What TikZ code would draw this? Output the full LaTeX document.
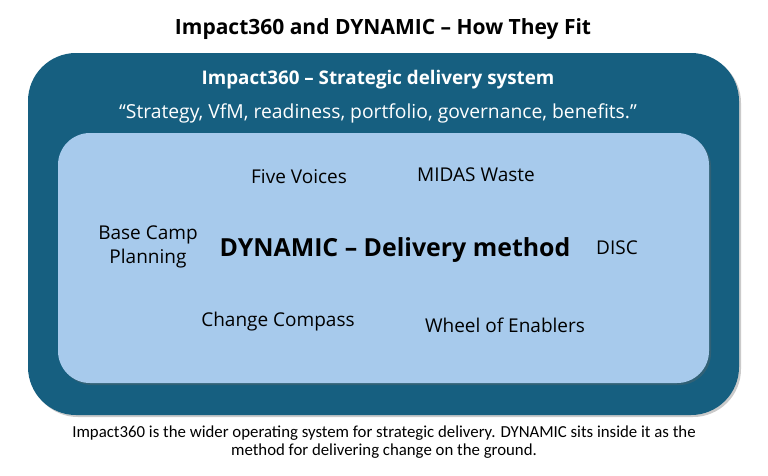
\documentclass[tikz,border=0pt]{standalone}
\usepackage{fontspec}
\setmainfont{Open Sans}
\newfontfamily\capfont{Carlito}
\usetikzlibrary{shadows}
\definecolor{systemblue}{HTML}{165F80}
\definecolor{methodblue}{HTML}{A7CAEC}
\begin{document}
\begin{tikzpicture}[x=1pt,y=-1pt,
    boxshadow/.style={drop shadow={shadow xshift=2pt,shadow yshift=-2pt,opacity=0.35,fill=black!60}},
    tool/.style={font=\fontsize{19}{23}\selectfont,text=black,align=center},
    intro/.style={font=\fontsize{19.3}{23}\selectfont,text=white}]
    \useasboundingbox (0,0) rectangle (768,475);
    \node[font=\fontsize{21}{25}\selectfont\bfseries] (title) at (383,29) {Impact360 and DYNAMIC -- How They Fit};
    % outer system box
    \fill[systemblue,rounded corners=48pt,boxshadow] (28,53) rectangle (739,415);
    \node[intro,font=\fontsize{18.8}{22}\selectfont\bfseries] (sys) at (378,80) {Impact360 -- Strategic delivery system};
    \node[intro] (quote) at (378,113) {``Strategy, VfM, readiness, portfolio, governance, benefits.''};
    % inner method box
    \fill[methodblue,rounded corners=32pt,boxshadow] (58,133) rectangle (709,383);
    \node[font=\fontsize{24.9}{29}\selectfont\bfseries] (method) at (395,250) {DYNAMIC -- Delivery method};
    \node[tool] (voices) at (299,177) {Five Voices};
    \node[tool] (midas) at (476,175) {MIDAS Waste};
    \node[tool,font=\fontsize{19}{24}\selectfont] (basecamp) at (148,247) {Base Camp\\Planning};
    \node[tool] (disc) at (617,248) {DISC};
    \node[tool] (compass) at (278,322) {Change Compass};
    \node[tool] (wheel) at (505,325) {Wheel of Enablers};
    % caption
    \node[font=\capfont\fontsize{16.8}{18}\selectfont,align=center] (caption) at (384,442)
        {Impact360 is the wider operating system for strategic delivery. DYNAMIC sits inside it as the\\method for delivering change on the ground.};
\end{tikzpicture}
\end{document}
